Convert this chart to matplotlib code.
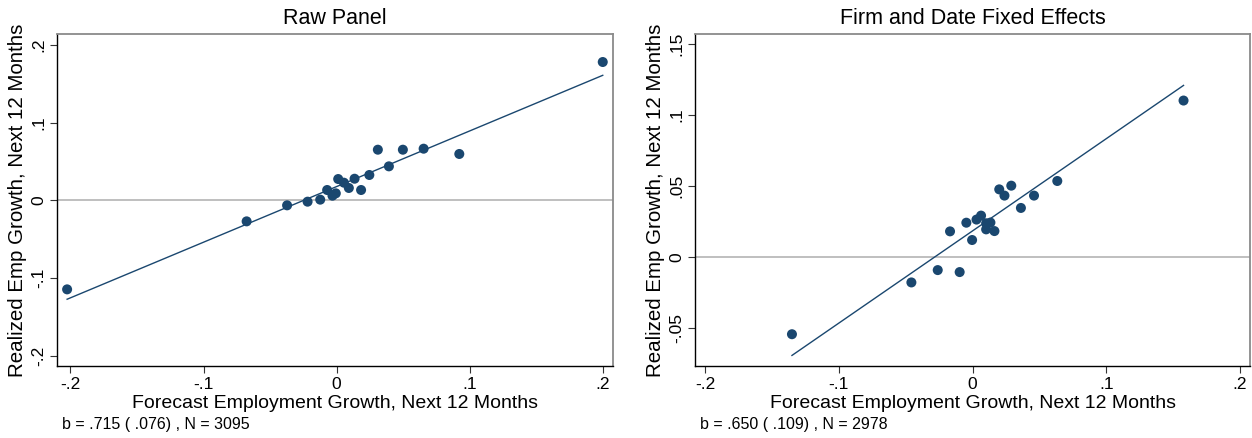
import matplotlib
matplotlib.use("Agg")
import matplotlib.pyplot as plt
from matplotlib import font_manager

# Binned scatter: forecast vs realized employment growth (20 bins per panel)
raw_x = [-0.2025, -0.0676, -0.0372, -0.0218, -0.0123, -0.0071, -0.0031, -0.0006,
         0.0012, 0.0055, 0.0092, 0.0135, 0.0184, 0.0246, 0.0310, 0.0393,
         0.0498, 0.0654, 0.0922, 0.2000]
raw_y = [-0.1144, -0.0270, -0.0064, -0.0017, 0.0009, 0.0133, 0.0060, 0.0090,
         0.0274, 0.0227, 0.0159, 0.0278, 0.0133, 0.0326, 0.0651, 0.0437,
         0.0651, 0.0664, 0.0596, 0.1778]

fe_x = [-0.1350, -0.0457, -0.0260, -0.0096, -0.0168, -0.0046, -0.0003, 0.0030,
        0.0064, 0.0102, 0.0102, 0.0134, 0.0164, 0.0200, 0.0239, 0.0290,
        0.0362, 0.0460, 0.0634, 0.1578]
fe_y = [-0.0546, -0.0181, -0.0094, -0.0108, 0.0179, 0.0240, 0.0118, 0.0262,
        0.0290, 0.0236, 0.0193, 0.0241, 0.0181, 0.0475, 0.0431, 0.0501,
        0.0344, 0.0431, 0.0534, 0.1101]

# fitted lines: slope b from the regression, intercept a
raw_b, raw_a = 0.715, 0.0177
fe_b, fe_a = 0.650, 0.0182

raw_note = "b = .715 ( .076) , N = 3095"
fe_note = "b = .650 ( .109) , N = 2978"

xticks = [-0.2, -0.1, 0, 0.1, 0.2]
xtick_labels = ["-.2", "-.1", "0", ".1", ".2"]
raw_yticks = [-0.2, -0.1, 0, 0.1, 0.2]
raw_ytick_labels = ["-.2", "-.1", "0", ".1", ".2"]
fe_yticks = [-0.05, 0, 0.05, 0.1, 0.15]
fe_ytick_labels = ["-.05", "0", ".05", ".1", ".15"]

names = {f.name for f in font_manager.fontManager.ttflist}
family = "Liberation Sans Narrow" if "Liberation Sans Narrow" in names else "Liberation Sans"
plt.rcParams["font.family"] = [family, "DejaVu Sans"]

navy = "#1a476f"
W, H = 1252, 438
fig = plt.figure(figsize=(W / 100, H / 100), dpi=100)


def panel(rect, x, y, b, a, title, note, yticks, ylabels, xlim, ylim):
    ax = fig.add_axes([rect[0] / W, 1 - rect[3] / H, (rect[2] - rect[0]) / W,
                       (rect[3] - rect[1]) / H])
    ax.axhline(0, color="#b4b4b4", lw=1.2, zorder=1)
    xs = [min(x), max(x)]
    ax.plot(xs, [a + b * v for v in xs], color=navy, lw=1.0, zorder=2)
    ax.scatter(x, y, s=52, color=navy, edgecolors="none", zorder=3)
    ax.set_xlim(*xlim)
    ax.set_ylim(*ylim)
    ax.set_xticks(xticks)
    ax.set_xticklabels(xtick_labels, fontsize=12.5)
    ax.set_yticks(yticks)
    ax.set_yticklabels(ylabels, fontsize=12.5, rotation=90, va="center")
    ax.tick_params(direction="out", length=5, width=0.8, color="#333333", pad=3)
    for side in ("top", "right"):
        ax.spines[side].set_color("#8a8a8a")
        ax.spines[side].set_linewidth(1.3)
    for side in ("left", "bottom"):
        ax.spines[side].set_color("black")
        ax.spines[side].set_linewidth(1.0)
    ax.set_title(title, fontsize=15.5, pad=7)
    ax.set_xlabel("Forecast Employment Growth, Next 12 Months", fontsize=14, labelpad=2)
    ax.set_ylabel("Realized Emp Growth, Next 12 Months", fontsize=14.8, labelpad=3)
    fig.text((rect[0] + 5) / W, 1 - 425 / H, note, fontsize=11.5, va="center", ha="left")
    return ax


panel((57, 34, 613, 366), raw_x, raw_y, raw_b, raw_a, "Raw Panel", raw_note,
      raw_yticks, raw_ytick_labels, (-0.2101, 0.2077), (-0.2129, 0.2138))
panel((695, 34, 1250, 366), fe_x, fe_y, fe_b, fe_a, "Firm and Date Fixed Effects", fe_note,
      fe_yticks, fe_ytick_labels, (-0.2075, 0.2075), (-0.077, 0.157))

fig.savefig("out.png", dpi=100)
